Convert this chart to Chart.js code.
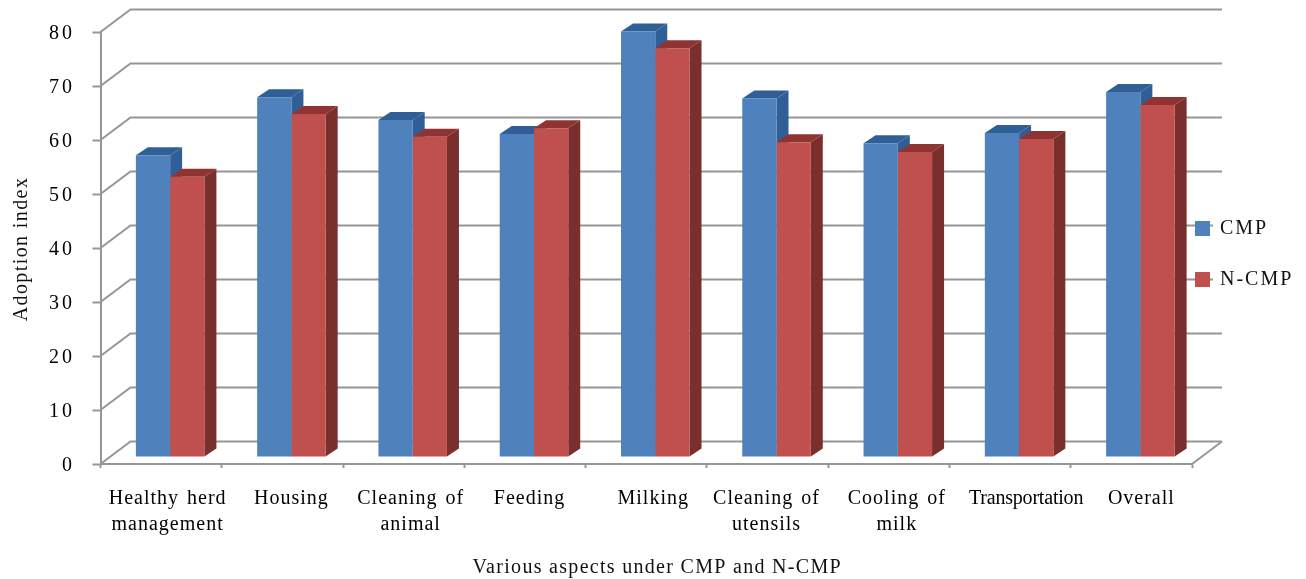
<!DOCTYPE html>
<html>
<head>
<meta charset="utf-8">
<style>body { margin: 0; background: #fff; } canvas { display: block; }</style>
<script src="https://cdn.jsdelivr.net/npm/chart.js@4"></script>
</head>
<body>
<canvas id="adoption" width="1306" height="579"></canvas>
<script>
const categories = [["Healthy herd", "management"], "Housing", ["Cleaning of", "animal"], "Feeding", "Milking", ["Cleaning of", "utensils"], ["Cooling of", "milk"], "Transportation", "Overall"];
const cmp = [55.9, 66.6, 62.4, 59.8, 78.8, 66.4, 58.1, 60, 67.6];
const nCmp = [51.9, 63.5, 59.3, 60.9, 75.7, 58.3, 56.5, 58.9, 65.2];
const yTicks = [0, 10, 20, 30, 40, 50, 60, 70, 80];

const serif = "'Liberation Serif', serif";
const ink = "#111";
const gridColor = "#969696";
const wallDx = 30, wallDy = 22.5;   // depth of the box
const barDx = 12, barDy = 8;        // depth of a bar
const shiftX = 9, shiftY = -7;      // bars stand in the middle of the floor
const sideColors = ["#2f5f96", "#7b2f2d"];
const topColors = ["#2f5f96", "#8f3432"];
// the labels in the picture are not quite centred, and Transportation is set tight
const labelNudge = [6.5, 9, 7, 4.5, 7, -1, 8, 16, 10];
const labelLetter = [1, 1, 1, 1, 1, 1, 1, -0.2, 1];

function spacing(ctx, letter, word) {
  ctx.letterSpacing = letter + "px";
  ctx.wordSpacing = word + "px";
}

// tick labels need letter spacing, which Chart.js has no option for
function drawSpacedLabels(scale, letterFor, nudgeX, nudgeY) {
  const ctx = scale.ctx;
  ctx.save();
  scale.getLabelItems().forEach((item, i) => {
    const [tx, ty] = item.options.translation;
    ctx.font = item.font.string;
    ctx.fillStyle = item.color;
    ctx.textAlign = item.options.textAlign;
    ctx.textBaseline = item.options.textBaseline;
    spacing(ctx, letterFor(i), 2);
    [].concat(item.label).forEach((line, j) => {
      ctx.fillText(line, tx + nudgeX(i), ty + nudgeY + item.textOffset + j * item.font.lineHeight);
    });
  });
  ctx.restore();
}

function spacedTitle(scale, letter, word, dx, dy) {
  const drawTitle = scale.drawTitle;
  scale.drawTitle = function () {
    const ctx = this.ctx;
    ctx.save();
    ctx.translate(dx, dy);
    spacing(ctx, letter, word);
    drawTitle.call(this);
    ctx.restore();
  };
}

const wall3d = {
  id: "wall3d",
  beforeDraw(chart) {
    const { ctx, chartArea: a, scales: { y } } = chart;
    spacing(ctx, 2, 0);
    ctx.save();
    ctx.strokeStyle = gridColor;
    ctx.lineWidth = 2;
    y.ticks.forEach(t => {
      const py = y.getPixelForValue(t.value);
      ctx.beginPath();
      ctx.moveTo(a.left, py);
      ctx.lineTo(a.left + wallDx, py - wallDy);
      ctx.lineTo(a.right + wallDx, py - wallDy);
      ctx.stroke();
    });
    const py = y.getPixelForValue(0);
    ctx.beginPath();
    ctx.moveTo(a.right, py);
    ctx.lineTo(a.right + wallDx, py - wallDy);
    ctx.stroke();
    // the legend has a white box over the wall lines
    ctx.fillStyle = "#fff";
    ctx.fillRect(1213, 190, 93, 120);
    ctx.restore();
  },
  afterLayout(chart) {
    const lg = chart.legend;
    lg.left = 1195 - 31;
    lg.top = 187.5;
    lg.right = 1306;
    lg.bottom = 340;
    const { x, y } = chart.scales;
    spacedTitle(x, 1.3, 0, 11, 1.5);
    spacedTitle(y, 1.4, 0, 0, 1);
    x.drawLabels = function () {
      drawSpacedLabels(this, i => labelLetter[i], i => labelNudge[i], 0);
    };
    y.drawLabels = function () {
      drawSpacedLabels(this, () => 3, () => 0, 2);
    };
  },
  beforeDatasetsDraw(chart) {
    const ctx = chart.ctx;
    ctx.save();
    ctx.translate(shiftX, shiftY);
    [0, 1].forEach(i => {
      chart.getDatasetMeta(i).data.forEach(bar => {
        const l = bar.x - bar.width / 2, r = bar.x + bar.width / 2;
        ctx.fillStyle = topColors[i];
        ctx.beginPath();
        ctx.moveTo(l, bar.y);
        ctx.lineTo(l + barDx, bar.y - barDy);
        ctx.lineTo(r + barDx, bar.y - barDy);
        ctx.lineTo(r, bar.y);
        ctx.fill();
        ctx.fillStyle = sideColors[i];
        ctx.beginPath();
        ctx.moveTo(r, bar.y);
        ctx.lineTo(r + barDx, bar.y - barDy);
        ctx.lineTo(r + barDx, bar.base - barDy);
        ctx.lineTo(r, bar.base);
        ctx.fill();
      });
    });
  },
  afterDatasetsDraw(chart) {
    chart.ctx.restore();
  }
};

new Chart(document.getElementById("adoption"), {
  type: "bar",
  data: {
    labels: categories,
    datasets: [
      { label: "CMP", data: cmp, backgroundColor: "#4f81bd", clip: false },
      { label: "N-CMP", data: nCmp, backgroundColor: "#c0504d", clip: false }
    ]
  },
  options: {
    responsive: false,
    animation: false,
    layout: { padding: { top: 32, right: 114 } },
    datasets: { bar: { barPercentage: 1, categoryPercentage: 0.565 } },
    plugins: {
      tooltip: { enabled: false },
      legend: {
        position: "chartArea",
        align: "start",
        labels: {
          boxWidth: 15, boxHeight: 15, padding: 31, color: ink,
          font: { family: serif, size: 20 }
        }
      }
    },
    scales: {
      x: {
        afterFit(s) { s.height = 115; },
        grid: { drawOnChartArea: false, tickLength: 4, tickColor: gridColor, tickWidth: 2 },
        border: { color: gridColor, width: 2 },
        ticks: {
          color: ink, padding: 18, maxRotation: 0, autoSkip: false,
          font: { family: serif, size: 20, lineHeight: 1.3 }
        },
        title: {
          display: true, text: "Various aspects under CMP and N-CMP", color: ink,
          font: { family: serif, size: 20 }, padding: { top: 0, bottom: 1 }
        }
      },
      y: {
        min: 0, max: 80,
        afterBuildTicks(s) { s.ticks = yTicks.map(value => ({ value })); },
        afterFit(s) { s.width = 100.5; },
        grid: { drawOnChartArea: false, tickLength: 8, tickColor: gridColor, tickWidth: 2 },
        border: { color: gridColor, width: 2 },
        ticks: { color: ink, padding: 17.5, font: { family: serif, size: 20 } },
        title: {
          display: true, text: "Adoption index", color: ink,
          font: { family: serif, size: 20 }, padding: { top: 10, bottom: 0 }
        }
      }
    }
  },
  plugins: [wall3d]
});
</script>
</body>
</html>
